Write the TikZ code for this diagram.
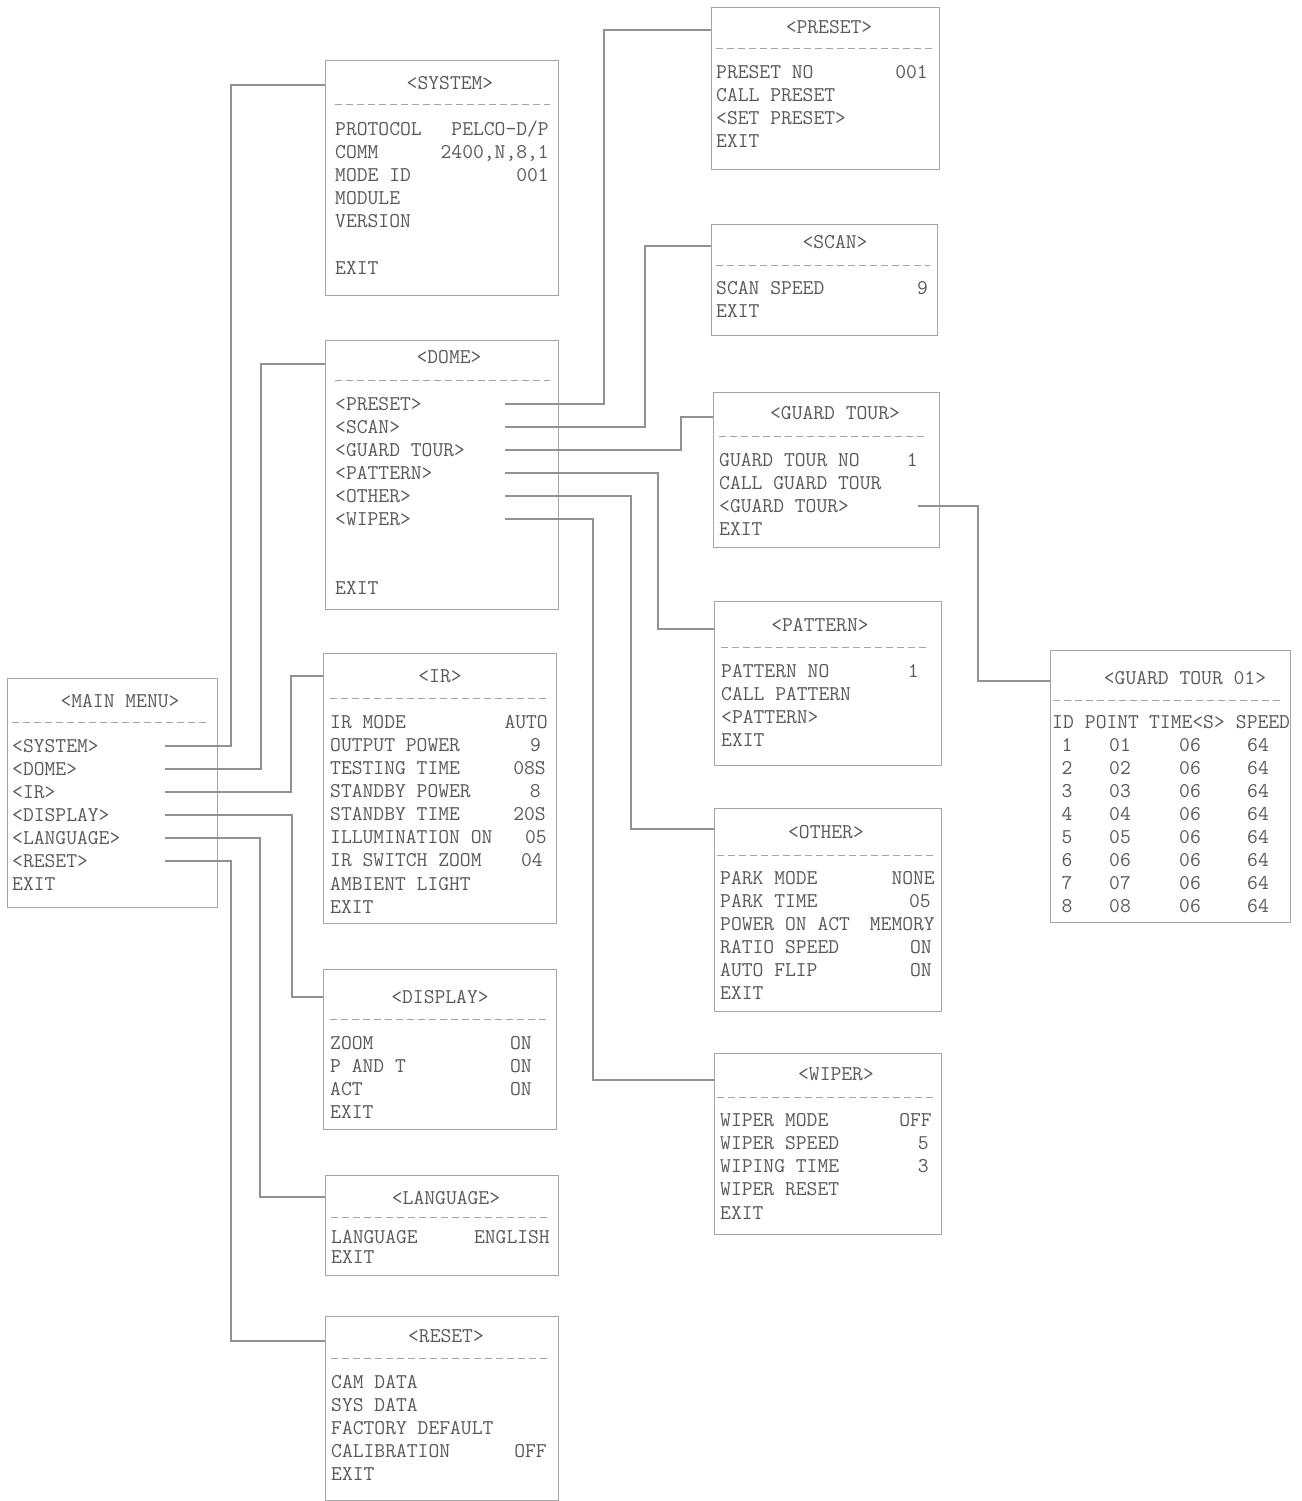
\documentclass[tikz,border=0pt]{standalone}
\definecolor{txtc}{RGB}{90,90,90}
\definecolor{boxc}{RGB}{165,165,165}
\definecolor{conc}{RGB}{145,145,145}
\tikzset{
 box/.style={draw=boxc, line width=1.1pt, anchor=north west, inner sep=0pt},
 txt/.style={font=\ttfamily\fontsize{21}{21}\selectfont, text=txtc, inner sep=0pt, text height=13pt, text depth=0pt},
 sepline/.style={draw=boxc, line width=0.9pt, dash pattern=on 7pt off 4pt},
 conn/.style={draw=conc, line width=1.1pt},
}
\newcommand\Lr[4]{\node[txt,anchor=west] (#1) at (#2,#3) {#4};}
\newcommand\Rr[4]{\node[txt,anchor=east] (#1) at (#2,#3) {#4};}
\newcommand\Cr[4]{\node[txt] (#1) at (#2,#3) {#4};}
\begin{document}
\begin{tikzpicture}[x=1pt,y=-1pt]
\fill[white] (0,0) rectangle (1301,1501);
\useasboundingbox (0,0) rectangle (1301,1501);

% ---------- MAIN MENU ----------
\node[box, minimum width=210, minimum height=229] (mm) at (7,678) {};
\Cr{mmT}{120}{701}{<MAIN MENU>}
\draw[sepline] (12,722) -- (207,722);
\Lr{mm1}{12}{746}{<SYSTEM>}
\Lr{mm2}{12}{769}{<DOME>}
\Lr{mm3}{12}{792}{<IR>}
\Lr{mm4}{12}{815}{<DISPLAY>}
\Lr{mm5}{12}{838}{<LANGUAGE>}
\Lr{mm6}{12}{861}{<RESET>}
\Lr{mm7}{12}{884}{EXIT}

% ---------- SYSTEM ----------
\node[box, minimum width=233, minimum height=235] (sys) at (325,60) {};
\Cr{sysT}{450}{83}{<SYSTEM>}
\draw[sepline] (335,104) -- (550,104);
\Lr{sys1}{335}{129}{PROTOCOL}   \Rr{sys1v}{549}{129}{PELCO-D/P}
\Lr{sys2}{335}{152}{COMM}       \Rr{sys2v}{549}{152}{2400,N,8,1}
\Lr{sys3}{335}{175}{MODE ID}    \Rr{sys3v}{549}{175}{001}
\Lr{sys4}{335}{198}{MODULE}
\Lr{sys5}{335}{221}{VERSION}
\Lr{sys6}{335}{268}{EXIT}

% ---------- DOME ----------
\node[box, minimum width=233, minimum height=269] (dome) at (325,340) {};
\Cr{domeT}{449}{357}{<DOME>}
\draw[sepline] (335,380) -- (550,380);
\Lr{dome1}{335}{404}{<PRESET>}
\Lr{dome2}{335}{427}{<SCAN>}
\Lr{dome3}{335}{450}{<GUARD TOUR>}
\Lr{dome4}{335}{473}{<PATTERN>}
\Lr{dome5}{335}{496}{<OTHER>}
\Lr{dome6}{335}{519}{<WIPER>}
\Lr{dome7}{335}{588}{EXIT}

% ---------- IR ----------
\node[box, minimum width=233, minimum height=270] (ir) at (323,653) {};
\Cr{irT}{440}{676}{<IR>}
\draw[sepline] (330,698) -- (548,698);
\Lr{ir1}{330}{722}{IR MODE}          \Rr{ir1v}{548}{722}{AUTO}
\Lr{ir2}{330}{745}{OUTPUT POWER}     \Rr{ir2v}{541}{745}{9}
\Lr{ir3}{330}{768}{TESTING TIME}     \Rr{ir3v}{546}{768}{08S}
\Lr{ir4}{330}{791}{STANDBY POWER}    \Rr{ir4v}{541}{791}{8}
\Lr{ir5}{330}{814}{STANDBY TIME}     \Rr{ir5v}{546}{814}{20S}
\Lr{ir6}{330}{837}{ILLUMINATION ON}  \Rr{ir6v}{547}{837}{05}
\Lr{ir7}{330}{860}{IR SWITCH ZOOM}   \Rr{ir7v}{543}{860}{04}
\Lr{ir8}{330}{884}{AMBIENT LIGHT}
\Lr{ir9}{330}{907}{EXIT}

% ---------- DISPLAY ----------
\node[box, minimum width=233, minimum height=160] (disp) at (323,969) {};
\Cr{dispT}{440}{997}{<DISPLAY>}
\draw[sepline] (330,1019) -- (548,1019);
\Lr{disp1}{330}{1043}{ZOOM}      \Rr{disp1v}{532}{1043}{ON}
\Lr{disp2}{330}{1066}{P AND T}   \Rr{disp2v}{532}{1066}{ON}
\Lr{disp3}{330}{1089}{ACT}       \Rr{disp3v}{532}{1089}{ON}
\Lr{disp4}{330}{1112}{EXIT}

% ---------- LANGUAGE ----------
\node[box, minimum width=233, minimum height=100] (lang) at (325,1175) {};
\Cr{langT}{446}{1198}{<LANGUAGE>}
\draw[sepline] (331,1217) -- (549,1217);
\Lr{lang1}{331}{1237}{LANGUAGE}  \Rr{lang1v}{550}{1237}{ENGLISH}
\Lr{lang2}{331}{1257}{EXIT}

% ---------- RESET ----------
\node[box, minimum width=233, minimum height=184] (rst) at (325,1316) {};
\Cr{rstT}{446}{1336}{<RESET>}
\draw[sepline] (331,1358) -- (549,1358);
\Lr{rst1}{331}{1382}{CAM DATA}
\Lr{rst2}{331}{1405}{SYS DATA}
\Lr{rst3}{331}{1428}{FACTORY DEFAULT}
\Lr{rst4}{331}{1451}{CALIBRATION}  \Rr{rst4v}{547}{1451}{OFF}
\Lr{rst5}{331}{1474}{EXIT}

% ---------- PRESET ----------
\node[box, minimum width=228, minimum height=162] (pre) at (711,7) {};
\Cr{preT}{829}{27}{<PRESET>}
\draw[sepline] (716,48) -- (932,48);
\Lr{pre1}{716}{72}{PRESET NO}   \Rr{pre1v}{928}{72}{001}
\Lr{pre2}{716}{95}{CALL PRESET}
\Lr{pre3}{716}{118}{<SET PRESET>}
\Lr{pre4}{716}{141}{EXIT}

% ---------- SCAN ----------
\node[box, minimum width=226, minimum height=111] (scan) at (711,224) {};
\Cr{scanT}{835}{242}{<SCAN>}
\draw[sepline] (716,265) -- (930,265);
\Lr{scan1}{716}{288}{SCAN SPEED}  \Rr{scan1v}{928}{288}{9}
\Lr{scan2}{716}{311}{EXIT}

% ---------- GUARD TOUR ----------
\node[box, minimum width=226, minimum height=155] (gt) at (713,392) {};
\Cr{gtT}{835}{413}{<GUARD TOUR>}
\draw[sepline] (719,436) -- (926,436);
\Lr{gt1}{719}{460}{GUARD TOUR NO}  \Rr{gt1v}{918}{460}{1}
\Lr{gt2}{719}{483}{CALL GUARD TOUR}
\Lr{gt3}{719}{506}{<GUARD TOUR>}
\Lr{gt4}{719}{529}{EXIT}

% ---------- PATTERN ----------
\node[box, minimum width=227, minimum height=164] (pat) at (714,601) {};
\Cr{patT}{820}{625}{<PATTERN>}
\draw[sepline] (721,647) -- (926,647);
\Lr{pat1}{721}{671}{PATTERN NO}  \Rr{pat1v}{919}{671}{1}
\Lr{pat2}{721}{694}{CALL PATTERN}
\Lr{pat3}{721}{717}{<PATTERN>}
\Lr{pat4}{721}{740}{EXIT}

% ---------- OTHER ----------
\node[box, minimum width=227, minimum height=203] (oth) at (714,808) {};
\Cr{othT}{826}{832}{<OTHER>}
\draw[sepline] (717,855) -- (936,855);
\Lr{oth1}{720}{878}{PARK MODE}     \Rr{oth1v}{935}{878}{NONE}
\Lr{oth2}{720}{901}{PARK TIME}     \Rr{oth2v}{931}{901}{05}
\Lr{oth3}{720}{924}{POWER ON ACT}  \Rr{oth3v}{935}{924}{MEMORY}
\Lr{oth4}{720}{947}{RATIO SPEED}   \Rr{oth4v}{932}{947}{ON}
\Lr{oth5}{720}{970}{AUTO FLIP}     \Rr{oth5v}{932}{970}{ON}
\Lr{oth6}{720}{993}{EXIT}

% ---------- WIPER ----------
\node[box, minimum width=227, minimum height=181] (wip) at (714,1053) {};
\Cr{wipT}{836}{1074}{<WIPER>}
\draw[sepline] (717,1097) -- (936,1097);
\Lr{wip1}{720}{1120}{WIPER MODE}   \Rr{wip1v}{932}{1120}{OFF}
\Lr{wip2}{720}{1143}{WIPER SPEED}  \Rr{wip2v}{929}{1143}{5}
\Lr{wip3}{720}{1166}{WIPING TIME}  \Rr{wip3v}{929}{1166}{3}
\Lr{wip4}{720}{1189}{WIPER RESET}
\Lr{wip5}{720}{1213}{EXIT}

% ---------- GUARD TOUR 01 ----------
\node[box, minimum width=240, minimum height=272] (gto) at (1050,650) {};
\Cr{gtoT}{1185}{678}{<GUARD TOUR 01>}
\draw[sepline] (1053,700) -- (1283,700);
\Cr{gtoH1}{1063}{722}{ID}
\Cr{gtoH2}{1112}{722}{POINT}
\Cr{gtoH3}{1187}{722}{TIME<S>}
\Cr{gtoH4}{1263}{722}{SPEED}
\foreach \i in {1,...,8}{
  \pgfmathsetmacro{\yy}{745+23*(\i-1)}
  \Cr{gtoA\i}{1067}{\yy}{\i}
  \Cr{gtoB\i}{1120}{\yy}{0\i}
  \Cr{gtoC\i}{1190}{\yy}{06}
  \Cr{gtoD\i}{1258}{\yy}{64}
}

% ---------- connectors: main menu ----------
\draw[conn] (mm1 -| 165,0) -- (mm1 -| 231,0) |- (0,85 -| sys.west);
\draw[conn] (mm2 -| 165,0) -- (mm2 -| 261,0) |- (0,364 -| dome.west);
\draw[conn] (mm3 -| 165,0) -- (mm3 -| 291,0) |- (0,676 -| ir.west);
\draw[conn] (mm4 -| 165,0) -- (mm4 -| 292,0) |- (0,997 -| disp.west);
\draw[conn] (mm5 -| 165,0) -- (mm5 -| 260,0) |- (0,1197 -| lang.west);
\draw[conn] (mm6 -| 165,0) -- (mm6 -| 231,0) |- (0,1341 -| rst.west);

% ---------- connectors: dome ----------
\draw[conn] (dome1 -| 505,0) -- (dome1 -| 604,0) |- (0,30 -| pre.west);
\draw[conn] (dome2 -| 505,0) -- (dome2 -| 645,0) |- (0,246 -| scan.west);
\draw[conn] (dome3 -| 505,0) -- (dome3 -| 681,0) |- (0,417 -| gt.west);
\draw[conn] (dome4 -| 505,0) -- (dome4 -| 658,0) |- (0,629 -| pat.west);
\draw[conn] (dome5 -| 505,0) -- (dome5 -| 631,0) |- (0,829 -| oth.west);
\draw[conn] (dome6 -| 505,0) -- (dome6 -| 593,0) |- (0,1080 -| wip.west);

% ---------- connector: guard tour ----------
\draw[conn] (gt3 -| 918,0) -- (gt3 -| 978,0) |- (0,681 -| gto.west);
\end{tikzpicture}
\end{document}
